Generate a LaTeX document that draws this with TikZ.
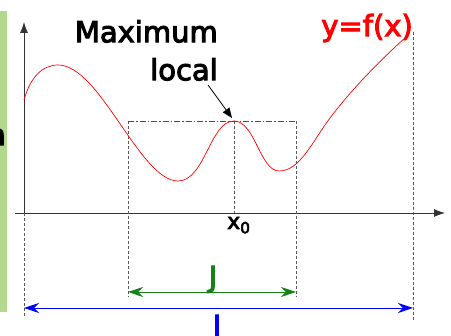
\documentclass[tikz,border=0pt]{standalone}
\usepackage{fontspec}
\setmainfont{DejaVu Sans}
\newfontfamily\semibold{DejaVu Sans}[FakeBold=3.5]
\usetikzlibrary{arrows.meta}
\definecolor{stripgreen}{RGB}{178,216,142}
\definecolor{jgreen}{RGB}{20,130,20}
\tikzset{
  big/.style={font=\fontsize{29}{38}\selectfont\semibold, inner sep=0pt},
  guide/.style={densely dashed, black!65, line width=0.7pt},
  axis/.style={line width=0.8pt, black!80, -{Latex[length=11pt,width=8pt]}},
  span/.style={line width=0.9pt, {Stealth[length=15pt,width=10pt]}-{Stealth[length=15pt,width=10pt]}},
}
\begin{document}
\begin{tikzpicture}[x=1pt,y=1pt]
        \useasboundingbox (0,0) rectangle (451,336);
        \fill[stripgreen] (0,24) rectangle (7,325);
        \node[big, anchor=base east] (cut) at (6,191) {n};
        \coordinate (o) at (24,123);
        \coordinate (xend) at (445,123);
        \coordinate (yend) at (24,314);
        \coordinate (xleft) at (15,123);
        \draw[axis] (xleft) -- (xend);
        \draw[axis] (o) -- (yend);
        \coordinate (mx) at (234,215);
        \coordinate (bl) at (128,215);
        \coordinate (br) at (296,215);
        \coordinate (ja) at (128,44);
        \coordinate (jb) at (296,44);
        \coordinate (ia) at (24,28);
        \coordinate (ib) at (413,28);
        \draw[guide] (o) -- (24,18);
        \draw[guide] (bl) -- (128,39);
        \draw[guide] (br) -- (296,39);
        \draw[guide] (mx) -- (234,123);
        \draw[guide] (413,304) -- (413,16);
        \draw[black!70, line width=0.8pt, dash pattern=on 6pt off 2pt on 1.5pt off 2pt] (bl) -- (br);
        \draw[red, line width=0.7pt] (24,236) .. controls (30,258) and (42,271) .. (58,271)
            .. controls (100,271) and (140,155) .. (178,155)
            .. controls (205,155) and (210,215) .. (234,215)
            .. controls (255,215) and (260,165) .. (279,165)
            .. controls (300,165) and (312,194) .. (330,218)
            .. controls (355,251) and (385,280) .. (406,299);
        \draw[span, jgreen] (ja) -- (jb);
        \draw[span, blue] (ia) -- (ib);
        \node[big, jgreen, anchor=base] (jlab) at (213,49) {J};
        \node[big, blue, anchor=base] (ilab) at (217,0) {I};
        \node[big, red, anchor=base east] (fx) at (413,300) {y=f(x)};
        \node[big, align=right, anchor=north east] (maxlab) at (218,316) {Maximum\\local};
        \coordinate (tail) at (208,251);
        \draw[line width=0.8pt, -{Triangle[length=10pt,width=8pt]}] (tail) -- (232,218);
        \node[font=\fontsize{22}{26}\selectfont\semibold, inner sep=0pt, anchor=base west] (x0) at (227,107) {x\textsubscript{0}};
\end{tikzpicture}
\end{document}
